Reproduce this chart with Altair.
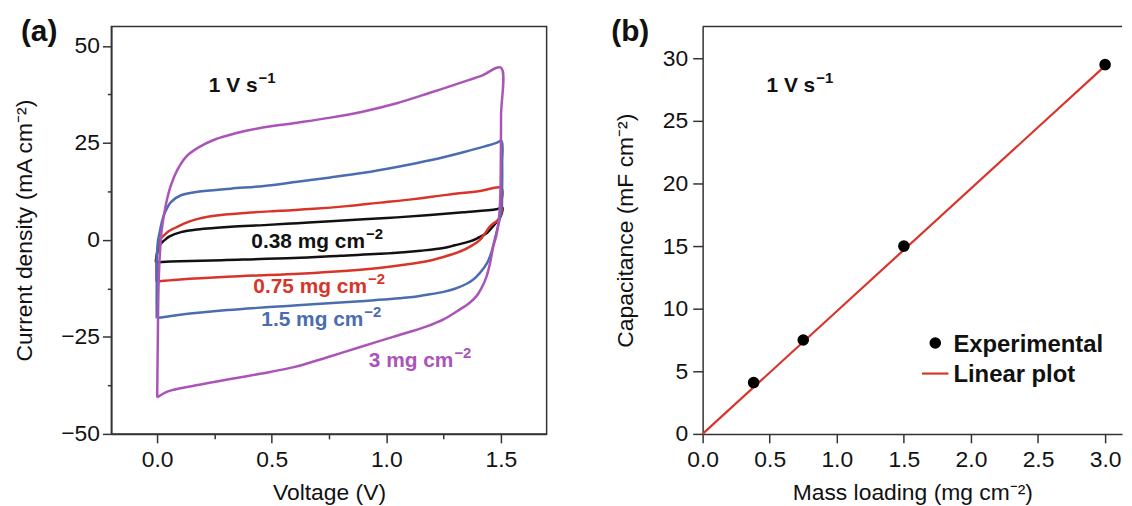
import altair as alt
import pandas as pd

FONT = "Liberation Sans"
INK = "#111111"
FRAME = "#333333"

# ---------------- (a) cyclic voltammograms at 1 V/s ----------------
series_names = ["0.38", "0.75", "1.5", "3"]
series_colors = ["#111111", "#d8352a", "#4b6db0", "#ab54b8"]

v_038 = [-0.006, -0.004, 0.0, 0.006, 0.015, 0.03, 0.054, 0.104, 0.177, 0.322, 0.467, 0.612, 0.757,
         0.901, 1.046, 1.191, 1.336, 1.481, 1.507, 1.505, 1.497, 1.485, 1.467, 1.438, 1.40, 1.365,
         1.30, 1.25, 1.15, 1.032, 0.8, 0.597, 0.3, 0.1, 0.02, -0.006]
i_038 = [-5.8, -4.5, -3.4, -2.1, -1.0, -0.2, 0.9, 2.0, 2.7, 3.4, 3.8, 4.3, 4.8,
         5.3, 5.8, 6.4, 7.1, 7.9, 8.3, 7.0, 5.8, 4.8, 3.6, 1.7, 0.5, -0.4,
         -1.4, -2.1, -2.8, -3.4, -4.1, -4.7, -5.2, -5.5, -5.7, -5.8]

v_075 = [-0.003, -0.003, -0.001, 0.004, 0.01, 0.02, 0.032, 0.05, 0.075, 0.11, 0.148, 0.249, 0.394,
         0.539, 0.684, 0.829, 0.974, 1.119, 1.264, 1.409, 1.503, 1.505, 1.503, 1.495, 1.482, 1.467,
         1.452, 1.43, 1.409, 1.37, 1.322, 1.25, 1.177, 1.03, 0.887, 0.597, 0.307, 0.1, 0.0, -0.003]
i_075 = [-10.7, -6.0, -3.4, -1.5, -0.2, 0.6, 1.3, 2.2, 3.0, 4.0, 4.9, 6.2, 7.0,
         7.5, 8.0, 8.7, 9.6, 10.5, 11.6, 12.6, 13.4, 10.0, 7.0, 5.8, 4.8, 4.2,
         3.4, 1.6, 0.0, -1.6, -3.0, -4.4, -5.5, -6.8, -7.7, -8.8, -9.5, -10.2, -10.7, -10.7]

v_15 = [-0.002, -0.002, -0.001, 0.001, 0.004, 0.01, 0.02, 0.032, 0.061, 0.104, 0.177, 0.322, 0.467,
        0.612, 0.757, 0.901, 1.046, 1.191, 1.336, 1.481, 1.503, 1.506, 1.505, 1.50, 1.49, 1.475,
        1.46, 1.44, 1.409, 1.38, 1.351, 1.30, 1.25, 1.17, 1.104, 0.887, 0.597, 0.307, 0.1, 0.017, -0.002]
i_15 = [-20.2, -12.0, -6.0, -2.0, 0.0, 1.7, 4.5, 6.8, 9.8, 11.5, 12.4, 13.2, 13.9,
        15.0, 16.1, 17.3, 18.8, 20.5, 22.6, 25.0, 25.5, 20.0, 12.0, 7.0, 4.0, 0.5,
        -3.0, -6.0, -8.5, -10.2, -11.3, -12.6, -13.4, -14.2, -14.8, -15.8, -16.9, -18.1, -19.3, -20.0, -20.2]

v_3 = [0.0, 0.002, 0.003, 0.006, 0.012, 0.020, 0.036, 0.058, 0.087, 0.126, 0.177, 0.249, 0.351,
       0.467, 0.612, 0.757, 0.901, 1.046, 1.191, 1.336, 1.42, 1.5, 1.501, 1.5, 1.497, 1.49, 1.48,
       1.467, 1.455, 1.438, 1.415, 1.394, 1.36, 1.322, 1.25, 1.177, 1.03, 0.887, 0.74, 0.597, 0.45,
       0.307, 0.15, 0.05, 0.0]
i_3 = [-40.6, -30.0, -24.8, -12.0, -3.4, 2.6, 8.5, 13.7, 17.9, 21.4, 23.7, 25.8, 27.6,
       29.0, 30.2, 31.5, 33.1, 35.2, 37.9, 40.7, 42.4, 44.4, 32.0, 20.0, 10.0, 4.5, 1.0,
       -1.7, -5.5, -9.4, -12.5, -14.5, -16.4, -17.9, -20.5, -22.3, -25.0, -27.6, -30.3, -32.8, -34.5,
       -36.0, -37.7, -39.0, -40.6]

# curve labels: main text ends at label_v_end, superscript follows
label_main = ["0.38 mg cm", "0.75 mg cm", "1.5 mg cm", "3 mg cm"]
label_sup = ["−2", "−2", "−2", "−2"]
label_v_end = [0.907, 0.916, 0.90, 1.293]
label_i_base = [-2.1, -13.8, -22.2, -32.8]

# ---------------- (b) capacitance vs mass loading ----------------
mass = [0.38, 0.75, 1.5, 3.0]
cap = [4.1, 7.5, 15.0, 29.5]
fit_x = [0.0, 3.0]
fit_y = [0.0, 29.4]

W1, H1 = 438, 410
W2, H2 = 422, 410


def loop(v, i, name):
    return pd.DataFrame({"V": v, "I": i, "idx": list(range(len(v))), "series": name})


cv = pd.concat([loop(v_038, i_038, "0.38"), loop(v_075, i_075, "0.75"),
                loop(v_15, i_15, "1.5"), loop(v_3, i_3, "3")], ignore_index=True)
labels = pd.DataFrame({"V": label_v_end, "I": label_i_base, "t": label_main,
                       "s": label_sup, "series": series_names})

color_scale = alt.Scale(domain=series_names, range=series_colors)

x_a = alt.X("V:Q", scale=alt.Scale(domain=[-0.2, 1.7], nice=False, zero=False),
            axis=alt.Axis(title="Voltage (V)",
                          values=[0, 0.25, 0.5, 0.75, 1.0, 1.25, 1.5],
                          labelExpr="datum.value % 0.5 === 0 ? format(datum.value, '.1f') : ''",
                          tickSize={"condition": {"test": "datum.value % 0.5 === 0", "value": 9}, "value": 5},
                          labelPadding=6, titlePadding=10))
y_a = alt.Y("I:Q", scale=alt.Scale(domain=[-50, 55], nice=False, zero=False),
            axis=alt.Axis(title="Current density (mA cm⁻²)",
                          values=[-50, -37.5, -25, -12.5, 0, 12.5, 25, 37.5, 50],
                          labelExpr="datum.value % 25 === 0 ? format(datum.value, 'd') : ''",
                          tickSize={"condition": {"test": "datum.value % 25 === 0", "value": 9}, "value": 4},
                          titlePadding=24))

curves = alt.Chart(cv).mark_line(strokeWidth=2.5, strokeJoin="round", interpolate="catmull-rom").encode(
    x=x_a, y=y_a,
    color=alt.Color("series:N", scale=color_scale, legend=None),
    detail="series:N",
    order=alt.Order("idx:Q"),
)
label_main_layer = alt.Chart(labels).mark_text(
    align="right", baseline="alphabetic", font=FONT, fontSize=21, fontWeight="bold"
).encode(x="V:Q", y="I:Q", text="t:N",
         color=alt.Color("series:N", scale=color_scale, legend=None))
label_sup_layer = alt.Chart(labels).mark_text(
    align="left", baseline="alphabetic", font=FONT, fontSize=15, fontWeight="bold", dx=1, dy=-9
).encode(x="V:Q", y="I:Q", text="s:N",
         color=alt.Color("series:N", scale=color_scale, legend=None))

rate_a_df = pd.DataFrame({"V": [0.438], "I": [38.1], "t": ["1 V s"], "s": ["−1"]})
rate_a = alt.Chart(rate_a_df).mark_text(
    align="right", baseline="alphabetic", font=FONT, fontSize=21, fontWeight="bold", color=INK
).encode(x="V:Q", y="I:Q", text="t:N")
rate_a_sup = alt.Chart(rate_a_df).mark_text(
    align="left", baseline="alphabetic", font=FONT, fontSize=15, fontWeight="bold", color=INK, dx=1, dy=-9
).encode(x="V:Q", y="I:Q", text="s:N")

tag_a = alt.Chart(pd.DataFrame({"t": ["(a)"]})).mark_text(
    align="left", baseline="middle", font=FONT, fontSize=30, fontWeight="bold", color=INK
).encode(text="t:N", x=alt.value(-91), y=alt.value(6))

left = alt.layer(curves, label_main_layer, label_sup_layer, rate_a, rate_a_sup, tag_a).properties(
    width=W1, height=H1)

# ---------------- right panel ----------------
x_b = alt.X("m:Q", scale=alt.Scale(domain=[0, 3.126], nice=False, zero=False),
            axis=alt.Axis(title="Mass loading (mg cm⁻²)",
                          values=[0, 0.25, 0.5, 0.75, 1.0, 1.25, 1.5, 1.75, 2.0, 2.25, 2.5, 2.75, 3.0],
                          labelExpr="datum.value % 0.5 === 0 ? format(datum.value, '.1f') : ''",
                          tickSize={"condition": {"test": "datum.value % 0.5 === 0", "value": 9}, "value": 5},
                          labelPadding=6, titlePadding=10))
y_b = alt.Y("c:Q", scale=alt.Scale(domain=[0, 32.55], nice=False, zero=False),
            axis=alt.Axis(title="Capacitance (mF cm⁻²)",
                          values=[0, 2.5, 5, 7.5, 10, 12.5, 15, 17.5, 20, 22.5, 25, 27.5, 30],
                          labelExpr="datum.value % 5 === 0 ? format(datum.value, 'd') : ''",
                          tickSize={"condition": {"test": "datum.value % 5 === 0", "value": 10}, "value": 5},
                          labelPadding=5,
                          titlePadding=25))

fit_line = alt.Chart(pd.DataFrame({"m": fit_x, "c": fit_y})).mark_line(
    color="#d8352a", strokeWidth=2.2).encode(x=x_b, y=y_b)
pts = alt.Chart(pd.DataFrame({"m": mass, "c": cap})).mark_circle(
    size=135, color="black", opacity=1).encode(x="m:Q", y="c:Q")

# legend (drawn in data space)
leg_pt = alt.Chart(pd.DataFrame({"m": [1.734], "c": [7.26]})).mark_circle(
    size=135, color="black", opacity=1).encode(x="m:Q", y="c:Q")
leg_ln = alt.Chart(pd.DataFrame({"m": [1.635], "m2": [1.832], "c": [4.82]})).mark_rule(
    color="#d8352a", strokeWidth=2.2).encode(x="m:Q", x2="m2:Q", y="c:Q")
leg_tx = alt.Chart(pd.DataFrame({"m": [1.869, 1.869], "c": [7.1, 4.7],
                                 "t": ["Experimental", "Linear plot"]})).mark_text(
    align="left", baseline="middle", font=FONT, fontSize=24, fontWeight="bold", color=INK
).encode(x="m:Q", y="c:Q", text="t:N")

rate_b_df = pd.DataFrame({"m": [0.839], "c": [27.35], "t": ["1 V s"], "s": ["−1"]})
rate_b = alt.Chart(rate_b_df).mark_text(
    align="right", baseline="alphabetic", font=FONT, fontSize=21, fontWeight="bold", color=INK
).encode(x="m:Q", y="c:Q", text="t:N")
rate_b_sup = alt.Chart(rate_b_df).mark_text(
    align="left", baseline="alphabetic", font=FONT, fontSize=15, fontWeight="bold", color=INK, dx=1, dy=-9
).encode(x="m:Q", y="c:Q", text="s:N")

tag_b = alt.Chart(pd.DataFrame({"t": ["(b)"]})).mark_text(
    align="left", baseline="middle", font=FONT, fontSize=30, fontWeight="bold", color=INK
).encode(text="t:N", x=alt.value(-92), y=alt.value(6))

top_border = alt.Chart(pd.DataFrame({"k": [0]})).mark_rule(color=FRAME, strokeWidth=1.5).encode(
    x=alt.value(0), x2=alt.value(W2), y=alt.value(0))

right = alt.layer(fit_line, pts, leg_pt, leg_ln, leg_tx, rate_b, rate_b_sup, tag_b, top_border).properties(
    width=W2, height=H2, view=alt.ViewBackground(stroke="transparent"))

chart = alt.hconcat(left, right, spacing=157, bounds="flush").properties(
    padding={"left": 5, "top": 7, "right": 0, "bottom": 0}
).configure_view(stroke=FRAME, strokeWidth=1.5).configure_axis(
    grid=False,
    labelFont=FONT, labelFontSize=23, labelColor=INK, labelPadding=3,
    titleFont=FONT, titleFontSize=23, titleFontWeight="normal", titleColor=INK,
    tickColor=FRAME, tickWidth=1.5, domainColor=FRAME, domainWidth=1.5,
    labelOverlap=False, labelFlush=False,
)

chart.save("out.html", embed_options={"renderer": "svg", "actions": False})
